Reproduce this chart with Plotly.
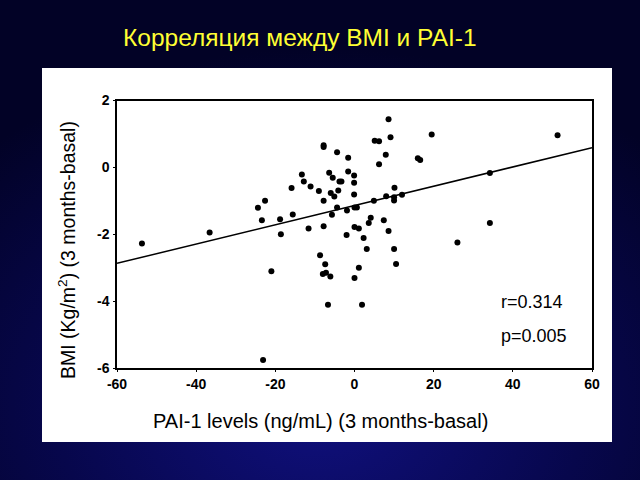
import base64
import plotly.graph_objects as go

# ---- data ----
pai1_change = [-53.7, -36.6, -24.4, -22.6, -23.4, -23.1, -21.0, -18.8, -18.6, -15.6,
               -15.9, -13.3, -12.8, -11.1, -11.6, -9.0, -8.7, -7.8, -7.8, -7.8,
               -7.8, -7.4, -8.0, -7.2, -6.1, -6.7, -6.4, -5.5, -4.4, -5.1,
               -6.0, -4.1, -3.8, -3.3, -4.4, -5.7, -1.6, -1.6, -0.1, -0.1,
               -0.1, -1.9, 0.0, 0.6, 0.0, 1.1, -2.0, 0.0, 1.1, 1.9,
               2.3, 3.1, 3.6, 4.1, 4.9, 5.1, 6.2, 6.2, 7.9, 8.6,
               9.1, 7.4, 8.0, 8.6, 10.0, 10.0, 10.1, 12.0, 10.0, 10.5,
               16.0, 16.6, 19.5, 26.0, 34.2, 34.2, 51.3]
bmi_change = [-2.28, -1.95, -1.21, -1.0, -1.58, -5.76, -3.11, -1.55, -2.0, -1.41,
              -0.62, -0.21, -0.42, -0.57, -1.83, -0.71, -2.63, 0.61, 0.66, -1.0,
              -1.76, -2.9, -3.19, -3.15, -3.26, -4.11, -0.16, -0.31, 0.45, -0.87,
              -0.77, -0.69, -0.42, -0.42, -1.2, -1.42, 0.29, -0.12, -0.24, -0.46,
              -0.81, -1.29, -1.2, -1.2, -1.78, -1.83, -2.02, -3.31, -3.0, -4.11,
              -2.11, -2.44, -1.66, -1.51, -1.0, 0.8, 0.78, 0.09, 0.38, 1.44,
              0.9, -1.58, -0.86, -1.9, -0.89, -0.99, -0.61, -0.82, -2.44, -2.89,
              0.27, 0.22, 0.98, -2.25, -0.17, -1.66, 0.96]
fit_x = [-60, 60]
fit_y = [-2.87, 0.59]
x_ticks = [-60, -40, -20, 0, 20, 40, 60]
x_tick_labels = ["-60", "-40", "-20", "0", "20", "40", "60"]
y_ticks = [-6, -4, -2, 0, 2]
y_tick_labels = ["-6", "-4", "-2", "0", "2"]
stats_text = ["r=0.314", "p=0.005"]

W, H = 640, 480
def px(x):
    return x / W
def py(y):
    return 1 - y / H

# background gradient as inline svg
svg = f'''<svg xmlns="http://www.w3.org/2000/svg" width="{W}" height="{H}">
<defs><radialGradient id="g" cx="50%" cy="85%" r="75%">
<stop offset="0%" stop-color="#10107e"/><stop offset="55%" stop-color="#07074c"/>
<stop offset="100%" stop-color="#020226"/></radialGradient></defs>
<rect width="{W}" height="{H}" fill="url(#g)"/></svg>'''
bg_src = "data:image/svg+xml;base64," + base64.b64encode(svg.encode()).decode()

fig = go.Figure()
fig.add_trace(go.Scatter(x=fit_x, y=fit_y, mode="lines",
                         line=dict(color="black", width=1.5), showlegend=False, hoverinfo="skip"))
fig.add_trace(go.Scatter(x=pai1_change, y=bmi_change, mode="markers",
                         marker=dict(color="black", size=6), showlegend=False))

font_main = "Liberation Sans, Arial, sans-serif"

fig.update_layout(
    template="none",
    width=W, height=H,
    margin=dict(l=0, r=0, t=0, b=0, pad=0, autoexpand=False),
    paper_bgcolor="#05053a",
    plot_bgcolor="white",
    images=[dict(source=bg_src, xref="paper", yref="paper", x=0, y=1,
                 sizex=1, sizey=1, xanchor="left", yanchor="top",
                 sizing="stretch", layer="below")],
    shapes=[dict(type="rect", xref="paper", yref="paper",
                 x0=px(42), x1=px(612), y0=py(442), y1=py(68),
                 fillcolor="white", line=dict(width=0), layer="below")],
    xaxis=dict(domain=[px(117), px(592)], range=[-60, 60],
               tickmode="array", tickvals=x_ticks, ticktext=x_tick_labels,
               automargin=False,
               showgrid=False, zeroline=False, showline=True, linecolor="black",
               linewidth=1.5, mirror=True, ticks="outside", ticklen=2, tickcolor="black",
               tickfont=dict(family=font_main, size=14, color="black", weight="bold"),
               ticklabelstandoff=0),
    yaxis=dict(domain=[py(368), py(100.5)], range=[-6, 2],
               tickmode="array", tickvals=y_ticks, ticktext=y_tick_labels,
               automargin=False,
               showgrid=False, zeroline=False, showline=True, linecolor="black",
               linewidth=1.5, mirror=True, ticks="outside", ticklen=2, tickcolor="black",
               tickfont=dict(family=font_main, size=14, color="black", weight="bold"),
               ticklabelstandoff=1),
    annotations=[
        dict(text="Корреляция между BMI и PAI-1", xref="paper", yref="paper",
             x=px(300), y=py(38), showarrow=False, xanchor="center", yanchor="middle",
             font=dict(family=font_main, size=24.5, color="#ffff33")),
        dict(text="PAI-1 levels (ng/mL) (3 months-basal)", xref="paper", yref="paper",
             x=px(320), y=py(421), showarrow=False, xanchor="center", yanchor="middle",
             font=dict(family=font_main, size=20, color="black")),
        dict(text="BMI (Kg/m<sup>2</sup>) (3 months-basal)", xref="paper", yref="paper",
             x=px(67), y=py(250), showarrow=False, xanchor="center", yanchor="middle",
             textangle=-90, font=dict(family=font_main, size=19.5, color="black")),
        dict(text=stats_text[0], xref="paper", yref="paper",
             x=px(499), y=py(302), showarrow=False, xanchor="left", yanchor="middle",
             font=dict(family=font_main, size=18, color="black")),
        dict(text=stats_text[1], xref="paper", yref="paper",
             x=px(499), y=py(336), showarrow=False, xanchor="left", yanchor="middle",
             font=dict(family=font_main, size=18, color="black")),
    ],
)

fig.write_html("out.html")
